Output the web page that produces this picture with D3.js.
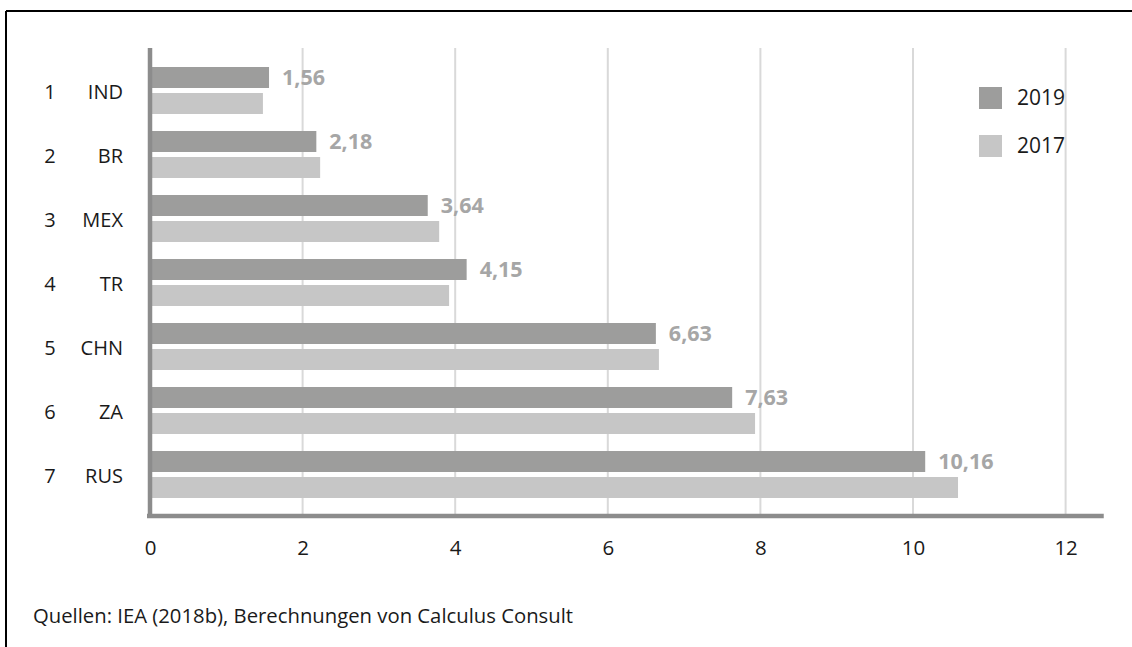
<!DOCTYPE html>
<html>
<head>
<meta charset="utf-8">
<script src="https://cdn.jsdelivr.net/npm/d3@7"></script>
<style>
  html, body { margin: 0; padding: 0; background: #fff; }
  svg { display: block; font-family: "Open Sans", "Noto Sans", sans-serif; }
</style>
</head>
<body>
<svg id="chart" width="1132" height="647"></svg>
<script>
// Rangliste der Länder mit Werten 2019 und 2017
const ranks = [1, 2, 3, 4, 5, 6, 7];
const countries = ["IND", "BR", "MEX", "TR", "CHN", "ZA", "RUS"];
const values2019 = [1.56, 2.18, 3.64, 4.15, 6.63, 7.63, 10.16];
const values2017 = [1.48, 2.23, 3.79, 3.92, 6.67, 7.93, 10.59];
const seriesNames = ["2019", "2017"];
const xTicks = [0, 2, 4, 6, 8, 10, 12];
const sourceText = "Quellen: IEA (2018b), Berechnungen von Calculus Consult";

const colors = { "2019": "#9d9d9c", "2017": "#c6c6c6" };
const seriesValues = { "2019": values2019, "2017": values2017 };

const svg = d3.select("#chart");
const fmt = v => d3.format(".2f")(v).replace(".", ",");

// Rahmen (oben und links)
svg.append("line").attr("x1", 6).attr("x2", 1132).attr("y1", 11).attr("y2", 11)
  .attr("stroke", "#000").attr("stroke-width", 2);
svg.append("line").attr("x1", 6).attr("x2", 6).attr("y1", 11).attr("y2", 647)
  .attr("stroke", "#000").attr("stroke-width", 2);

const plotTop = 48;
const x = d3.scaleLinear().domain([0, 12.5]).range([150, 1103.75]);

const p = 17 / 64;
const y = d3.scaleBand().domain(countries).range([58.5, 506.5])
  .paddingInner(p).paddingOuter(p / 2);
const ySub = d3.scaleBand().domain(seriesNames).range([0, y.bandwidth()])
  .paddingInner(5 / 26).paddingOuter(0);

// Gitterlinien
svg.append("g").selectAll("line")
  .data(xTicks.filter(t => t > 0))
  .join("line")
  .attr("x1", d => x(d)).attr("x2", d => x(d))
  .attr("y1", plotTop).attr("y2", 514)
  .attr("stroke", "#d9d9d9").attr("stroke-width", 2);

// Balken
const groups = svg.append("g").selectAll("g")
  .data(countries)
  .join("g")
  .attr("transform", d => `translate(0,${y(d)})`);

groups.selectAll("rect")
  .data((c, i) => seriesNames.map(s => ({ s, v: seriesValues[s][i] })))
  .join("rect")
  .attr("x", x(0) + 2)
  .attr("y", d => ySub(d.s))
  .attr("width", d => x(d.v) - x(0) - 2)
  .attr("height", ySub.bandwidth())
  .attr("fill", d => colors[d.s]);

// Wertelabels für 2019
groups.append("text")
  .attr("x", (c, i) => x(values2019[i]) + 13)
  .attr("y", ySub("2019") + ySub.bandwidth() / 2)
  .attr("dy", "0.35em")
  .attr("font-size", 21.5)
  .attr("font-weight", 700)
  .attr("fill", "#a6a6a6")
  .text((c, i) => fmt(values2019[i]));

// Achsenlinien
svg.append("line").attr("x1", 150).attr("x2", 150).attr("y1", plotTop).attr("y2", 518)
  .attr("stroke", "#8c8c8c").attr("stroke-width", 4.5);
svg.append("line").attr("x1", 147).attr("x2", 1103.75).attr("y1", 516).attr("y2", 516)
  .attr("stroke", "#8c8c8c").attr("stroke-width", 4.5);

// x-Achsenbeschriftung
const xAxis = d3.axisBottom(x).tickValues(xTicks).tickSize(0).tickPadding(0);
const gx = svg.append("g").attr("transform", "translate(0,540)").call(xAxis);
gx.select(".domain").remove();
gx.selectAll("text")
  .attr("font-family", "\"Open Sans\", sans-serif")
  .attr("font-size", 20.5)
  .attr("fill", "#1a1a1a")
  .attr("dy", "0.71em")
  .attr("y", 0);

// Kategorien: Rang und Länderkürzel
const cats = svg.append("g").selectAll("g")
  .data(countries)
  .join("g")
  .attr("transform", d => `translate(0,${y(d) + y.bandwidth() / 2 + 1.5})`);
cats.append("text")
  .attr("x", 50).attr("text-anchor", "middle").attr("dy", "0.35em")
  .attr("font-size", 20).attr("fill", "#1a1a1a")
  .text((c, i) => ranks[i]);
cats.append("text")
  .attr("x", 123).attr("text-anchor", "end").attr("dy", "0.35em")
  .attr("font-size", 20).attr("fill", "#1a1a1a")
  .text(d => d);

// Legende
const legend = svg.append("g").selectAll("g")
  .data(seriesNames)
  .join("g")
  .attr("transform", (d, i) => `translate(979,${87 + i * 48})`);
legend.append("rect").attr("width", 23).attr("height", 22).attr("fill", d => colors[d]);
legend.append("text")
  .attr("x", 38).attr("y", 11).attr("dy", "0.35em")
  .attr("font-size", 21).attr("fill", "#1a1a1a")
  .text(d => d);

// Quellenangabe
svg.append("text")
  .attr("x", 33).attr("y", 623)
  .attr("font-size", 20.3).attr("fill", "#1a1a1a")
  .text(sourceText);
</script>
</body>
</html>
